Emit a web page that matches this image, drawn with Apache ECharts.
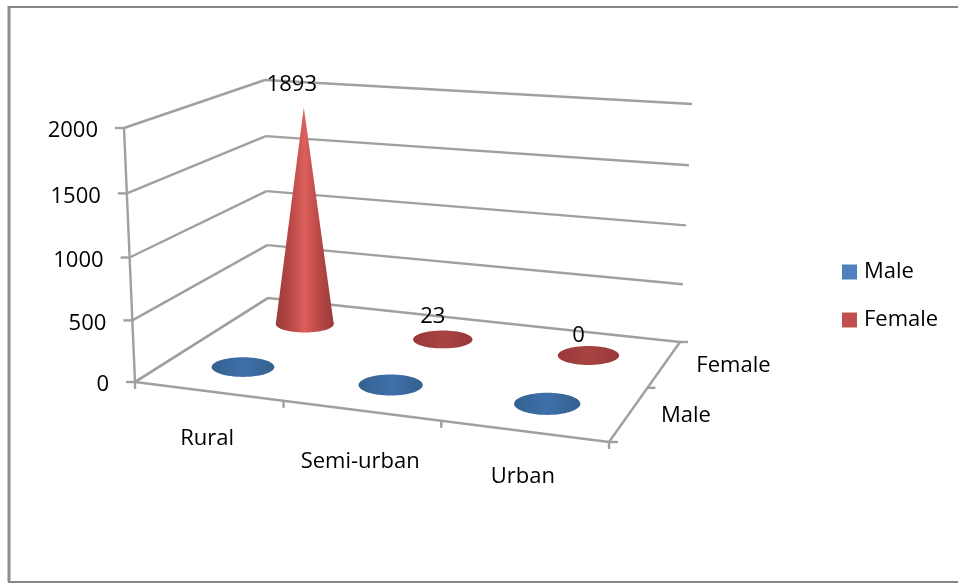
<!DOCTYPE html>
<html>
<head>
<meta charset="utf-8">
<style>html,body{margin:0;padding:0;background:#fff}#c{width:958px;height:583px}</style>
<script src="https://cdn.jsdelivr.net/npm/echarts@6/dist/echarts.min.js"></script>
</head>
<body>
<div id="c"></div>
<script>
const categories = ['Rural', 'Semi-urban', 'Urban'];
const seriesNames = ['Male', 'Female'];
const maleValues = [0, 0, 0];
const femaleValues = [1893, 23, 0];
const valueTicks = [0, 500, 1000, 1500, 2000];

// camera of the 3D chart: floor and ceiling corners as pixels [u,w]: 00,10,11,01
const FLOOR = [[135, 382], [609, 442], [680, 342], [268, 298]];
const CEIL = [[124, 128], [620, 160], [692, 104], [265, 80]];
const GRID = { left: 100, top: 100, width: 600, height: 400 };
const CAT_LABEL_DROP = [47, 51, 46];
const FONT = '"Open Sans", Lato, sans-serif';
const FS = 22;
const LINE = '#a0a0a0';

function homography(q) {
  const [A, B, C, D] = q;
  const dx1 = B[0] - C[0], dy1 = B[1] - C[1], dx2 = D[0] - C[0], dy2 = D[1] - C[1];
  const sx = A[0] - B[0] + C[0] - D[0], sy = A[1] - B[1] + C[1] - D[1];
  const den = dx1 * dy2 - dx2 * dy1;
  const g = (sx * dy2 - dx2 * sy) / den, h = (dx1 * sy - sx * dy1) / den;
  const a = B[0] - A[0] + g * B[0], b = D[0] - A[0] + h * D[0];
  const d = B[1] - A[1] + g * B[1], e = D[1] - A[1] + h * D[1];
  return (u, w) => {
    const z = 1 + g * u + h * w;
    return [(A[0] + a * u + b * w) / z, (A[1] + d * u + e * w) / z];
  };
}
const floorAt = homography(FLOOR), ceilAt = homography(CEIL);
function project(u, w, v) {
  const k = -0.039, t = v * (1 + k) / (1 + k * v);
  const f = floorAt(u, w), c = ceilAt(u, w);
  return [f[0] + (c[0] - f[0]) * t, f[1] + (c[1] - f[1]) * t];
}
const fracU = x => (x - GRID.left) / GRID.width;
const fracV = y => (GRID.top + GRID.height - y) / GRID.height;
const seg = (a, b, z) => ({
  type: 'line', z2: z || 1, silent: true,
  shape: { x1: a[0], y1: a[1], x2: b[0], y2: b[1] },
  style: { stroke: LINE, lineWidth: 2.4 }
});
const label = (text, x, y, align) => ({
  type: 'text', z2: 30, silent: true,
  style: { text: String(text), x, y, align: align || 'center', verticalAlign: 'middle', font: FS + 'px ' + FONT, fill: '#000' }
});

function renderValueTick(params, api) {
  const v = fracV(api.coord([0, api.value(0)])[1]);
  const a = project(0, 0, v), b = project(0, 1, v), c = project(1, 1, v);
  return { type: 'group', children: [
    seg(a, b), seg(b, c), seg([a[0] - 9, a[1]], a),
    label(api.value(0), a[0] - 26, a[1] + 3, 'right')
  ] };
}
function renderCategory(params, api) {
  const p = api.coord([api.value(0), 0]);
  const u = fracU(p[0]);
  const bw = api.size([1, 0])[0] / GRID.width;
  const c = project(u, 0, 0), t0 = project(u + bw / 2, 0, 0);
  const ch = [
    seg(t0, [t0[0], t0[1] + 7]),
    label(categories[api.value(0)], c[0] - 1, c[1] + CAT_LABEL_DROP[api.value(0)])
  ];
  if (params.dataIndex === 0) {
    const o = project(0, 0, 0);
    ch.push(seg(o, [o[0], o[1] + 7]));
  }
  return { type: 'group', children: ch };
}
function renderDepth(params, api) {
  const j = api.value(0), w = (j + 0.5) / seriesNames.length;
  const c = project(1, w, 0), t = project(1, (j + 1) / seriesNames.length, 0);
  const ch = [seg(t, [t[0] + 8, t[1]]), label(seriesNames[j], c[0] + 32, c[1] + 2, 'left')];
  if (j === 0) { const o = project(1, 0, 0); ch.push(seg(o, [o[0] + 9, o[1]])); }
  return { type: 'group', children: ch };
}
function renderFloor(params, api) {
  const o = project(0, 0, 0), b = project(1, 0, 0), c = project(1, 1, 0), d = project(0, 1, 0);
  const top = project(0, 0, 1);
  return { type: 'group', children: [seg(o, b), seg(b, c), seg(o, d), seg(o, top)] };
}

const PAL = {
  Male: { edge: '#2f5f97', side: '#4476b0', mid: '#5b8fcc', flat: ['#33618f', '#3f70aa', '#33618f'] },
  Female: { edge: '#983b39', side: '#b84846', mid: '#dc5f5b', flat: ['#99373a', '#a84342', '#99373a'] }
};
function grad(stops) {
  return { type: 'linear', x: 0, y: 0, x2: 1, y2: 0, colorStops: stops.map((color, i) => ({ offset: i / (stops.length - 1), color })) };
}
function coneRenderer(j) {
  return function (params, api) {
    const p = api.coord([api.value(0), api.value(1)]);
    const u = fracU(p[0]), v = fracV(p[1]);
    const w = (j + 0.5) / seriesNames.length;
    const base = project(u, w, 0), apex = project(u, w, v);
    const e = 0.005;
    const b1 = project(u + e, w, 0), b2 = project(u, w + e, 0);
    const eu = [(b1[0] - base[0]) / e, (b1[1] - base[1]) / e];
    const ew = [(b2[0] - base[0]) / e, (b2[1] - base[1]) / e];
    const ru = 0.066, rw = 0.1;
    const rx = Math.hypot(eu[0] * ru, ew[0] * rw), ry = Math.hypot(eu[1] * ru, ew[1] * rw);
    const pal = PAL[seriesNames[j]];
    const tall = base[1] - apex[1] > 8;
    const fill = tall ? grad([pal.edge, pal.side, pal.mid, pal.side, pal.edge]) : grad(pal.flat);
    const ch = [{
      type: 'ellipse', z2: 10, silent: true,
      shape: { cx: base[0], cy: base[1], rx, ry }, style: { fill }
    }];
    if (tall) {
      ch.push({
        type: 'polygon', z2: 11, silent: true,
        shape: { points: [[base[0] - rx, base[1]], apex, [base[0] + rx, base[1]]] }, style: { fill }
      });
    }
    if (j === seriesNames.length - 1) {
      const val = api.value(1);
      ch.push(label(val, apex[0] + (tall ? -12 : -10), apex[1] + (tall ? -23 : -20)));
    }
    return { type: 'group', children: ch };
  };
}
const toCone = vals => vals.map((v, i) => [i, v]);
const hidden = (s) => Object.assign({ type: 'custom', coordinateSystem: 'cartesian2d', silent: true, animation: false, clip: false, legendHoverLink: false, tooltip: { show: false } }, s);

const option = {
  animation: false,
  backgroundColor: '#fff',
  grid: Object.assign({ containLabel: false }, GRID),
  xAxis: { type: 'category', data: categories, show: false },
  yAxis: { type: 'value', min: 0, max: 2000, interval: 500, show: false },
  legend: {
    data: seriesNames, orient: 'vertical', left: 837, top: 256, icon: 'rect',
    itemWidth: 15, itemHeight: 15, itemGap: 26, selectedMode: false,
    textStyle: { fontFamily: FONT, fontSize: FS, color: '#000', padding: [0, 0, 0, 2] }
  },
  series: [
    hidden({ name: 'grid lines', z: 1, renderItem: renderValueTick, data: valueTicks.map(v => [v]), encode: { y: 0 } }),
    hidden({ name: 'floor', z: 1, renderItem: renderFloor, data: [[0]], encode: { y: 0 } }),
    hidden({ name: 'category axis', z: 1, renderItem: renderCategory, data: categories.map((c, i) => [i]), encode: { x: 0 } }),
    hidden({ name: 'depth axis', z: 1, renderItem: renderDepth, data: seriesNames.map((c, i) => [i]), encode: { y: 0 } }),
    hidden({ name: 'Male', z: 3, itemStyle: { color: '#4f81bd' }, renderItem: coneRenderer(0), data: toCone(maleValues), encode: { x: 0, y: 1 } }),
    hidden({ name: 'Female', z: 4, itemStyle: { color: '#c0504d' }, renderItem: coneRenderer(1), data: toCone(femaleValues), encode: { x: 0, y: 1 } })
  ],
  graphic: [
    { type: 'line', silent: true, z: 0, shape: { x1: 9, y1: 6, x2: 9, y2: 582 }, style: { stroke: '#8f8f8f', lineWidth: 3 } },
    { type: 'line', silent: true, z: 0, shape: { x1: 8, y1: 7, x2: 958, y2: 7 }, style: { stroke: '#868686', lineWidth: 2 } },
    { type: 'line', silent: true, z: 0, shape: { x1: 8, y1: 582, x2: 958, y2: 582 }, style: { stroke: '#868686', lineWidth: 2 } }
  ]
};
echarts.init(document.getElementById('c'), null, { renderer: 'canvas' }).setOption(option);
</script>
</body>
</html>
